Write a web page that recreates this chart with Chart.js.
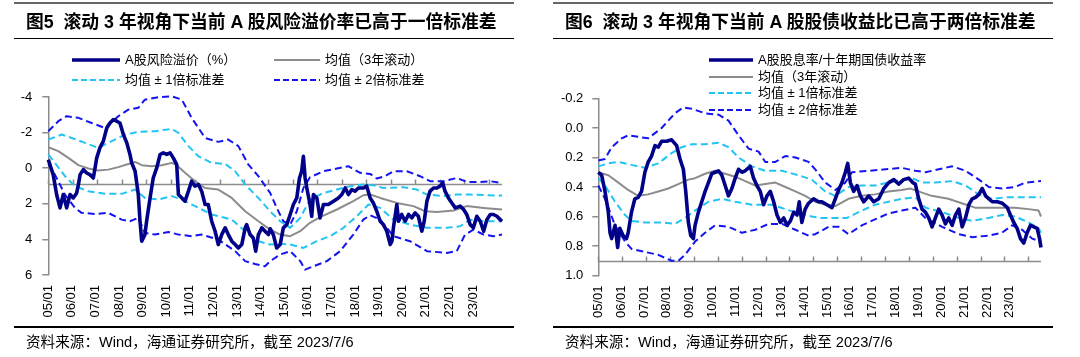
<!DOCTYPE html>
<html><head><meta charset="utf-8">
<script src="https://cdn.jsdelivr.net/npm/chart.js@4.4.0/dist/chart.umd.min.js"></script>
<style>
body{margin:0;width:1080px;height:357px;background:#fff;position:relative;overflow:hidden;font-family:"Liberation Sans","Noto Sans CJK SC",sans-serif;color:#000}
.panel{position:absolute;top:0;width:540px;height:357px}
canvas{position:absolute;left:0;top:0}
.topline{position:absolute;left:14px;width:500px;top:2px;height:2px;background:#666}
.title{position:absolute;left:26px;top:11px;font-size:17.8px;font-weight:bold;white-space:nowrap;line-height:22px}
.titleline{position:absolute;left:14px;width:500px;top:38px;height:1px;background:#000}
.srcline{position:absolute;left:14px;width:500px;top:326px;height:1.5px;background:#000}
.src{position:absolute;left:26px;top:332px;font-size:14.6px;white-space:nowrap;line-height:20px}
.lt{position:absolute;font-size:13px;white-space:nowrap;line-height:18px}
svg{position:absolute}
</style>
</head><body>
<div class="panel" id="p1" style="left:0">
  <canvas id="c1" width="540" height="357"></canvas>
  <div class="topline"></div>
  <div class="title">图5&nbsp;&nbsp;滚动 3 年视角下当前 A 股风险溢价率已高于一倍标准差</div>
  <div class="titleline"></div>
  <div class="srcline"></div>
  <div class="src">资料来源：Wind，海通证券研究所，截至 2023/7/6</div>
</div>
<div class="panel" id="p2" style="left:540px">
  <canvas id="c2" width="540" height="357"></canvas>
  <div class="topline" style="left:13px"></div>
  <div class="title" style="left:25px">图6&nbsp;&nbsp;滚动 3 年视角下当前 A 股股债收益比已高于两倍标准差</div>
  <div class="titleline" style="left:13px"></div>
  <div class="srcline" style="left:13px"></div>
  <div class="src" style="left:25px">资料来源：Wind，海通证券研究所，截至 2023/7/6</div>
</div>
<script>
// ---------- shared ----------
const YEAR_LABELS = ['05/01','06/01','07/01','08/01','09/01','10/01','11/01','12/01','13/01','14/01','15/01','16/01','17/01','18/01','19/01','20/01','21/01','22/01','23/01'];
const TICK_YEARS = [2005,2006,2007,2008,2009,2010,2011,2012,2013,2014,2015,2016,2017,2018,2019,2020,2021,2022,2023];

// ---------- Figure 5: A股风险溢价（%） ----------
const L_NAMES = ['A股风险溢价（%）','均值（3年滚动）','均值 ± 1倍标准差','均值 ± 2倍标准差'];
const L_MAIN_X = [2005.00,2005.20,2005.34,2005.48,2005.61,2005.75,2005.89,2006.02,2006.16,2006.23,2006.30,2006.43,2006.57,2006.70,2006.84,2006.91,2006.98,2007.11,2007.25,2007.39,2007.52,2007.66,2007.80,2007.93,2008.07,2008.21,2008.34,2008.41,2008.55,2008.68,2008.75,2008.82,2008.95,2009.02,2009.16,2009.29,2009.43,2009.57,2009.70,2009.84,2009.98,2010.11,2010.25,2010.32,2010.46,2010.59,2010.73,2010.86,2011.00,2011.14,2011.27,2011.41,2011.54,2011.68,2011.82,2011.95,2012.09,2012.23,2012.36,2012.50,2012.64,2012.77,2012.91,2013.05,2013.11,2013.25,2013.38,2013.48,2013.59,2013.73,2013.86,2014.00,2014.07,2014.20,2014.34,2014.48,2014.61,2014.75,2014.89,2015.02,2015.16,2015.27,2015.36,2015.43,2015.50,2015.57,2015.70,2015.77,2015.84,2015.98,2016.11,2016.25,2016.45,2016.66,2016.86,2017.00,2017.14,2017.27,2017.41,2017.54,2017.68,2017.89,2018.02,2018.16,2018.29,2018.43,2018.57,2018.70,2018.84,2018.98,2019.05,2019.11,2019.18,2019.25,2019.32,2019.45,2019.59,2019.73,2019.86,2020.00,2020.13,2020.27,2020.37,2020.48,2020.61,2020.75,2020.89,2021.02,2021.13,2021.22,2021.36,2021.50,2021.64,2021.84,2021.98,2022.11,2022.25,2022.38,2022.52,2022.66,2022.80,2022.93,2023.07,2023.20,2023.34,2023.48,2023.55];
const L_MAIN_Y = [-0.48,0.36,1.48,2.23,1.48,2.23,1.48,1.67,1.39,0.92,0.36,0.08,0.27,0.36,0.55,0.00,-0.58,-1.14,-1.52,-2.26,-2.54,-2.73,-2.64,-2.54,-1.89,-1.42,-0.77,-0.30,0.17,1.48,2.98,4.10,3.73,2.98,1.67,0.55,0.00,-0.77,-0.86,-0.77,-0.86,-0.58,-0.20,1.48,1.67,1.85,1.29,0.73,1.01,0.92,1.29,2.04,2.04,2.98,3.54,4.29,3.73,3.35,3.73,4.10,4.29,4.48,4.29,3.35,3.17,3.73,3.92,4.66,3.73,3.35,3.54,3.73,3.40,3.73,4.48,4.29,3.35,3.17,2.60,2.04,1.67,0.55,0.17,-0.67,0.55,1.11,2.04,2.70,1.48,1.67,2.79,2.04,2.04,1.85,1.67,1.48,1.11,1.48,1.20,1.29,1.11,1.11,1.01,1.67,1.95,2.42,2.98,3.17,3.54,4.29,4.10,3.35,2.70,2.04,2.98,2.60,2.98,2.60,2.79,2.51,2.70,3.54,2.98,1.85,1.29,1.11,1.11,1.01,0.83,1.29,1.67,1.95,2.23,2.13,2.32,2.60,3.17,3.35,2.70,2.98,3.54,2.89,2.60,2.60,2.70,2.89,2.98];
const L_MEAN_X = [2005.00,2005.41,2005.82,2006.23,2006.64,2007.04,2007.45,2007.86,2008.27,2008.55,2008.82,2009.23,2009.64,2010.05,2010.25,2010.59,2011.00,2011.41,2011.95,2012.50,2013.05,2013.59,2014.07,2014.48,2014.89,2015.30,2015.70,2016.11,2016.80,2017.47,2017.88,2018.16,2018.57,2019.25,2019.93,2020.41,2020.89,2021.57,2022.11,2022.80,2023.55];
const L_MEAN_Y = [-1.18,-0.96,-0.58,-0.17,0.02,0.13,0.08,-0.06,-0.24,-0.35,-0.17,-0.11,-0.17,-0.30,-0.17,0.26,0.73,1.11,1.20,1.67,2.42,2.98,3.45,3.73,3.82,3.54,3.07,2.75,2.32,1.85,1.52,1.48,1.67,1.95,2.13,2.42,2.46,2.38,2.13,2.23,2.32];
const L_UP1_X = [2005.00,2005.55,2005.96,2006.50,2007.04,2007.59,2008.14,2008.68,2009.36,2010.05,2010.32,2010.73,2011.14,2011.68,2012.23,2012.64,2013.05,2013.59,2014.07,2014.48,2014.89,2015.30,2015.70,2016.25,2016.80,2017.34,2017.88,2018.29,2018.70,2019.52,2020.07,2020.48,2021.16,2021.70,2022.25,2022.93,2023.55];
const L_UP1_Y = [-1.61,-1.89,-1.70,-1.42,-1.14,-1.52,-1.89,-2.04,-2.08,-2.21,-1.98,-1.24,-0.67,-0.30,-0.24,0.17,0.92,1.67,2.42,2.98,3.35,2.79,1.76,1.39,1.20,1.01,0.92,0.96,1.11,1.07,1.20,1.48,1.57,1.48,1.48,1.52,1.54];
const L_LO1_X = [2005.00,2005.27,2005.68,2006.09,2006.64,2007.32,2008.00,2008.55,2008.95,2009.50,2010.05,2010.46,2011.14,2011.68,2012.50,2013.05,2013.59,2014.07,2014.48,2014.89,2015.43,2015.98,2016.52,2017.07,2017.61,2018.09,2018.57,2019.11,2019.79,2020.48,2021.29,2021.84,2022.25,2022.80,2023.55];
const L_LO1_Y = [-0.77,-0.30,0.45,1.01,1.29,1.44,1.44,1.20,1.67,1.76,1.57,1.76,2.23,2.60,2.89,3.54,4.10,4.29,4.25,4.29,4.48,4.10,3.82,3.35,2.70,2.04,2.23,2.89,3.17,3.35,3.35,3.26,2.89,2.98,2.98];
const L_UP2_X = [2005.00,2005.41,2005.75,2006.23,2006.77,2007.32,2007.86,2008.27,2008.68,2008.95,2009.50,2010.05,2010.46,2010.86,2011.41,2011.95,2012.36,2012.77,2013.18,2013.59,2014.07,2014.34,2014.61,2014.89,2015.16,2015.43,2015.70,2016.25,2016.80,2017.27,2017.75,2018.16,2018.43,2018.77,2019.11,2019.66,2020.20,2020.61,2021.16,2021.70,2022.11,2022.66,2023.07,2023.55];
const L_UP2_Y = [-2.08,-2.64,-2.92,-2.83,-2.54,-2.26,-2.92,-3.29,-3.39,-3.85,-3.99,-4.04,-3.85,-2.83,-1.70,-1.48,-1.61,-1.24,-0.20,0.45,1.39,2.23,2.98,3.17,2.42,1.11,0.51,0.17,0.02,-0.11,0.26,0.32,0.58,0.45,0.17,0.17,0.45,0.73,0.73,0.55,0.77,0.77,0.73,0.83];
const L_LO2_X = [2005.00,2005.27,2005.68,2006.09,2006.36,2006.91,2007.45,2008.00,2008.34,2008.68,2008.95,2009.36,2009.91,2010.32,2010.86,2011.27,2011.95,2012.64,2013.05,2013.45,2013.86,2014.07,2014.48,2014.89,2015.30,2015.50,2015.84,2016.39,2016.93,2017.47,2017.88,2018.16,2018.57,2019.11,2019.79,2020.48,2021.29,2021.70,2022.04,2022.38,2022.80,2023.20,2023.55];
const L_LO2_Y = [-0.24,0.36,1.48,2.23,2.51,2.57,2.51,2.89,2.98,2.79,3.63,3.73,3.58,3.73,3.82,3.73,4.01,4.66,5.22,5.38,5.51,5.22,4.85,4.66,5.22,5.70,5.51,5.22,4.66,3.73,2.89,2.64,2.89,3.82,4.10,4.66,4.76,4.66,3.73,3.45,3.73,3.82,3.73];

// ---------- Figure 6: A股股息率/十年期国债收益率 ----------
const R_NAMES = ['A股股息率/十年期国债收益率','均值（3年滚动）','均值 ± 1倍标准差','均值 ± 2倍标准差'];
const R_MAIN_X = [2005.00,2005.14,2005.28,2005.42,2005.49,2005.56,2005.70,2005.81,2005.90,2006.04,2006.18,2006.25,2006.39,2006.53,2006.67,2006.81,2006.95,2007.09,2007.23,2007.37,2007.51,2007.65,2007.86,2008.07,2008.28,2008.42,2008.56,2008.66,2008.77,2008.87,2008.98,2009.05,2009.19,2009.33,2009.47,2009.61,2009.75,2009.89,2010.03,2010.17,2010.31,2010.45,2010.59,2010.73,2010.87,2011.01,2011.15,2011.36,2011.50,2011.64,2011.78,2011.92,2012.06,2012.20,2012.34,2012.48,2012.62,2012.76,2012.90,2013.04,2013.18,2013.32,2013.41,2013.52,2013.66,2013.80,2014.01,2014.22,2014.36,2014.57,2014.78,2014.92,2015.06,2015.20,2015.34,2015.44,2015.55,2015.69,2015.83,2015.97,2016.11,2016.32,2016.53,2016.74,2016.95,2017.16,2017.37,2017.57,2017.78,2017.99,2018.16,2018.27,2018.41,2018.55,2018.69,2018.83,2018.97,2019.11,2019.25,2019.39,2019.53,2019.67,2019.81,2019.95,2020.09,2020.23,2020.37,2020.51,2020.65,2020.79,2020.93,2021.07,2021.21,2021.35,2021.49,2021.70,2021.91,2022.12,2022.25,2022.39,2022.53,2022.67,2022.81,2022.95,2023.09,2023.23,2023.37,2023.47,2023.53];
const R_MAIN_Y = [0.30,0.32,0.43,0.57,0.71,0.75,0.66,0.81,0.68,0.73,0.75,0.71,0.57,0.48,0.47,0.43,0.30,0.23,0.19,0.12,0.13,0.09,0.09,0.08,0.12,0.21,0.28,0.43,0.64,0.73,0.75,0.66,0.57,0.50,0.43,0.37,0.31,0.30,0.29,0.32,0.39,0.46,0.41,0.34,0.28,0.30,0.29,0.26,0.34,0.39,0.43,0.52,0.46,0.43,0.50,0.59,0.64,0.61,0.66,0.63,0.57,0.59,0.50,0.64,0.55,0.51,0.48,0.50,0.50,0.52,0.54,0.48,0.42,0.37,0.30,0.24,0.37,0.43,0.39,0.46,0.50,0.46,0.50,0.48,0.41,0.37,0.35,0.38,0.35,0.34,0.37,0.38,0.48,0.55,0.57,0.61,0.67,0.61,0.55,0.59,0.65,0.61,0.66,0.59,0.55,0.67,0.61,0.52,0.48,0.47,0.45,0.41,0.46,0.48,0.50,0.50,0.51,0.54,0.59,0.64,0.68,0.75,0.78,0.71,0.66,0.67,0.68,0.75,0.81];
const R_MEAN_X = [2005.00,2005.42,2005.84,2006.25,2006.67,2007.09,2007.51,2007.93,2008.35,2008.77,2009.05,2009.47,2009.89,2010.31,2010.73,2011.15,2011.57,2011.99,2012.41,2012.83,2013.25,2013.66,2014.08,2014.50,2014.92,2015.47,2016.03,2016.58,2017.14,2017.70,2018.05,2018.40,2018.95,2019.65,2020.21,2020.77,2021.33,2021.90,2022.45,2023.01,2023.43,2023.53];
const R_MEAN_Y = [0.30,0.32,0.37,0.42,0.46,0.45,0.43,0.41,0.38,0.35,0.34,0.31,0.29,0.31,0.33,0.36,0.39,0.38,0.37,0.40,0.43,0.46,0.50,0.52,0.53,0.48,0.46,0.45,0.43,0.42,0.41,0.43,0.46,0.48,0.51,0.54,0.54,0.54,0.54,0.55,0.56,0.60];
const R_UP1_X = [2005.00,2005.42,2005.84,2006.39,2006.95,2007.51,2008.07,2008.49,2008.91,2009.47,2010.03,2010.45,2010.87,2011.43,2011.99,2012.69,2013.38,2013.94,2014.29,2014.50,2014.92,2015.20,2015.47,2016.03,2016.58,2017.14,2017.70,2018.13,2018.55,2019.11,2019.81,2020.37,2020.93,2021.49,2022.04,2022.74,2023.53];
const R_UP1_Y = [0.26,0.24,0.23,0.25,0.27,0.24,0.17,0.13,0.11,0.11,0.10,0.13,0.20,0.26,0.29,0.29,0.32,0.35,0.40,0.43,0.46,0.43,0.40,0.39,0.39,0.37,0.35,0.34,0.37,0.37,0.36,0.39,0.45,0.48,0.47,0.47,0.47];
const R_LO1_X = [2005.00,2005.28,2005.70,2006.12,2006.39,2006.95,2007.65,2008.21,2008.63,2009.05,2009.61,2010.17,2010.73,2011.43,2012.27,2012.83,2013.38,2013.94,2014.29,2014.64,2015.40,2016.03,2016.58,2017.14,2017.70,2018.27,2018.69,2019.39,2020.09,2020.65,2021.33,2021.90,2022.45,2023.01,2023.43,2023.53];
const R_LO1_Y = [0.34,0.39,0.50,0.59,0.63,0.64,0.64,0.65,0.61,0.56,0.50,0.48,0.50,0.52,0.52,0.55,0.58,0.60,0.61,0.61,0.61,0.56,0.52,0.50,0.48,0.47,0.54,0.57,0.61,0.63,0.61,0.59,0.60,0.64,0.68,0.71];
const R_UP2_X = [2005.00,2005.28,2005.56,2005.98,2006.25,2006.67,2007.09,2007.65,2008.21,2008.56,2008.91,2009.47,2010.03,2010.45,2010.87,2011.29,2011.71,2011.99,2012.41,2012.83,2013.25,2013.80,2014.08,2014.50,2014.92,2015.34,2015.62,2016.32,2017.02,2017.70,2018.27,2018.69,2019.25,2019.81,2020.37,2020.93,2021.35,2021.90,2022.45,2022.87,2023.53];
const R_UP2_Y = [0.22,0.21,0.13,0.07,0.05,0.06,0.07,0.00,-0.10,-0.14,-0.13,-0.10,-0.09,-0.05,0.05,0.14,0.16,0.23,0.23,0.19,0.20,0.23,0.28,0.37,0.42,0.37,0.30,0.29,0.28,0.27,0.29,0.30,0.28,0.26,0.29,0.35,0.40,0.41,0.40,0.37,0.36];
const R_LO2_X = [2005.00,2005.28,2005.70,2006.12,2006.39,2006.95,2007.51,2008.07,2008.35,2008.63,2009.05,2009.47,2009.89,2010.45,2011.01,2011.57,2012.13,2012.69,2013.25,2013.80,2014.08,2014.64,2015.06,2015.47,2016.03,2016.58,2017.14,2017.70,2018.27,2018.69,2019.39,2020.09,2020.65,2021.33,2021.90,2022.32,2022.74,2023.16,2023.53];
const R_LO2_Y = [0.39,0.48,0.66,0.77,0.82,0.84,0.86,0.90,0.90,0.86,0.77,0.71,0.66,0.67,0.71,0.69,0.65,0.65,0.69,0.73,0.72,0.67,0.67,0.72,0.66,0.62,0.58,0.56,0.54,0.61,0.67,0.72,0.74,0.73,0.71,0.66,0.69,0.75,0.77];

// ---------- styles ----------
const C_MAIN = '#000088', C_MEAN = '#8C8C8C', C_SD1 = '#22C4F2', C_SD2 = '#1414F0', C_AXIS = '#8C8C8C';
const DASH = [7,4];

Chart.defaults.font.family = "'Liberation Sans', Arial, sans-serif";
Chart.defaults.color = '#000';
Chart.defaults.animation = false;

function pts(xs, ys){ return xs.map((x,i)=>({x:x, y:ys[i]})); }
function ds(label, xs, ys, color, width, dash){
  return {label, data: pts(xs, ys), borderColor: color, borderWidth: width, borderDash: dash || [],
          pointRadius: 0, tension: 0, fill: false, borderJoinStyle: 'round', clip: 3};
}

const crossLine = {
  id: 'crossLine',
  beforeDatasetsDraw(chart, args, o){
    const {ctx, chartArea:a, scales} = chart;
    const x = scales.x, y = scales.y;
    const py = Math.round(y.getPixelForValue(o.value)) + 0.5;
    ctx.save();
    ctx.strokeStyle = o.color; ctx.lineWidth = 1.5;
    ctx.beginPath();
    ctx.moveTo(a.left, py); ctx.lineTo(a.right, py);
    for (const yr of o.years){ const px = Math.round(x.getPixelForValue(yr)) + 0.5; ctx.moveTo(px, py); ctx.lineTo(px, py - 5); }
    ctx.stroke();
    ctx.restore();
  }
};

function build(canvasId, names, S, yCfg, geo){
  const datasets = [
    ds(names[0], S.mx, S.my, C_MAIN, 3.6),
    ds(names[1], S.ax, S.ay, C_MEAN, 2),
    ds(names[2], S.u1x, S.u1y, C_SD1, 2, DASH),
    ds(names[2]+' ', S.l1x, S.l1y, C_SD1, 2, DASH),
    ds(names[3], S.u2x, S.u2y, C_SD2, 2, DASH),
    ds(names[3]+' ', S.l2x, S.l2y, C_SD2, 2, DASH)
  ];
  return new Chart(document.getElementById(canvasId), {
    type: 'line',
    data: {datasets},
    plugins: [crossLine],
    options: {
      responsive: false,
      layout: {padding: geo.pad},
      plugins: {legend: {display: false}, tooltip: {enabled: false},
                crossLine: {value: 0.9, years: TICK_YEARS, color: C_AXIS}},
      scales: {
        x: {type: 'linear', display: false, min: 2005, max: geo.xmax},
        xl: {type: 'linear', position: 'bottom', min: 0, max: geo.lmax,
             afterBuildTicks: s => { s.ticks = YEAR_LABELS.map((t,i)=>({value:i})); },
             ticks: {autoSkip: false, minRotation: 90, maxRotation: 90, padding: 10, font: {size: 13},
                     callback: v => YEAR_LABELS[v]},
             grid: {display: false, drawTicks: false}, border: {display: false},
             afterFit: s => { s.height = 45; }},
        y: {type: 'linear', reverse: true, min: yCfg.min, max: yCfg.max,
            ticks: {stepSize: yCfg.step, padding: geo.tpad, font: {size: 13}, callback: yCfg.fmt},
            grid: {drawOnChartArea: false, tickLength: 6, color: C_AXIS, lineWidth: 1.5},
            border: {color: C_AXIS, width: 1.5},
            afterFit: s => { s.width = geo.yw; }}
      }
    }
  });
}

build('c1', L_NAMES,
  {mx:L_MAIN_X,my:L_MAIN_Y,ax:L_MEAN_X,ay:L_MEAN_Y,u1x:L_UP1_X,u1y:L_UP1_Y,l1x:L_LO1_X,l1y:L_LO1_Y,u2x:L_UP2_X,u2y:L_UP2_Y,l2x:L_LO2_X,l2y:L_LO2_Y},
  {min:-4, max:6, step:2, fmt: v => String(Math.round(v))},
  {pad:{left:0, top:97, right:38, bottom:37}, yw:48.3, tpad:10, xmax:2023.55, lmax:19.23});

build('c2', R_NAMES,
  {mx:R_MAIN_X,my:R_MAIN_Y,ax:R_MEAN_X,ay:R_MEAN_Y,u1x:R_UP1_X,u1y:R_UP1_Y,l1x:R_LO1_X,l1y:R_LO1_Y,u2x:R_UP2_X,u2y:R_UP2_Y,l2x:R_LO2_X,l2y:R_LO2_Y},
  {min:-0.2, max:1.0, step:0.2, fmt: v => (Math.abs(v) < 1e-9 ? 0 : v).toFixed(1)},
  {pad:{left:0, top:98.5, right:39, bottom:36.5}, yw:58.3, tpad:9, xmax:2023.53, lmax:19.36});

// ---------- legends (HTML) ----------
function legendItem(panelId, x, y, w, color, width, dash, text){
  const p = document.getElementById(panelId);
  const ns = 'http://www.w3.org/2000/svg';
  const svg = document.createElementNS(ns, 'svg');
  svg.setAttribute('width', w); svg.setAttribute('height', 10);
  svg.style.left = x + 'px'; svg.style.top = (y - 5) + 'px';
  const ln = document.createElementNS(ns, 'line');
  ln.setAttribute('x1', 0); ln.setAttribute('x2', w); ln.setAttribute('y1', 5); ln.setAttribute('y2', 5);
  ln.setAttribute('stroke', color); ln.setAttribute('stroke-width', width);
  if (dash) ln.setAttribute('stroke-dasharray', dash.join(' '));
  svg.appendChild(ln); p.appendChild(svg);
  const t = document.createElement('div');
  t.className = 'lt'; t.textContent = text;
  t.style.left = (x + w + 5) + 'px'; t.style.top = (y - 9) + 'px';
  p.appendChild(t);
}
const LEG_STYLE = [[C_MAIN,3.5,null],[C_MEAN,2,null],[C_SD1,2,[6,3]],[C_SD2,2,[6,3]]];
legendItem('p1', 72, 60, 48, ...LEG_STYLE[0], L_NAMES[0]);
legendItem('p1', 274, 60, 46, ...LEG_STYLE[1], L_NAMES[1]);
legendItem('p1', 72, 80, 48, ...LEG_STYLE[2], L_NAMES[2]);
legendItem('p1', 274, 80, 46, ...LEG_STYLE[3], L_NAMES[3]);
const R_LEG_Y = [60, 76.5, 93, 109.5];
R_NAMES.forEach((n,i)=> legendItem('p2', 169, R_LEG_Y[i], 44, ...LEG_STYLE[i], n));
</script>
</body></html>
